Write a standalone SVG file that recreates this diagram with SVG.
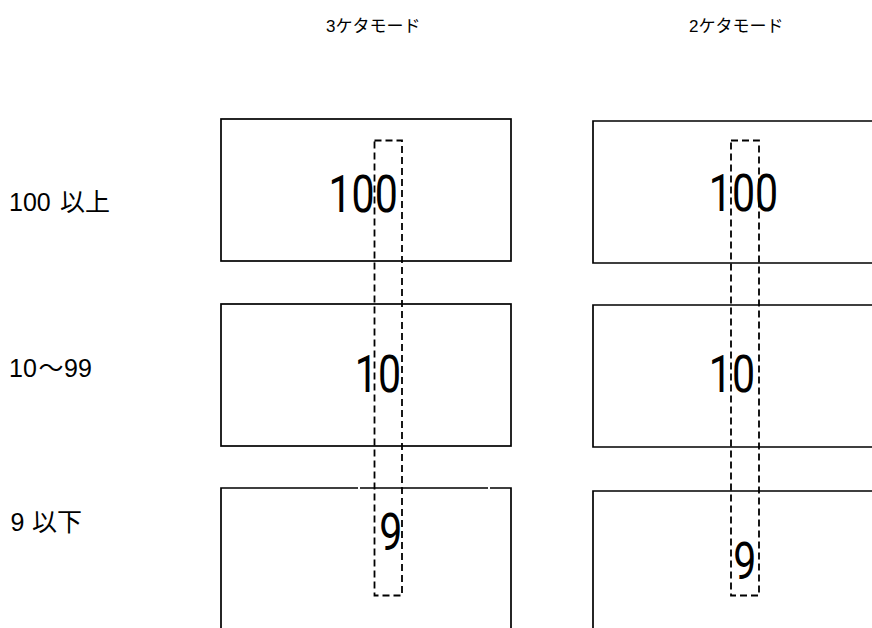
<svg xmlns="http://www.w3.org/2000/svg" width="872" height="628" viewBox="0 0 872 628">
<style>
.box{fill:none;stroke:#000;stroke-width:1.7}
.dash{fill:none;stroke:#000;stroke-width:1.8;stroke-dasharray:7 4}
.t{font-family:"Liberation Sans","Noto Sans CJK JP",sans-serif;fill:#000}
.big{font-family:Roboto,"Liberation Sans",sans-serif;font-weight:400;font-size:52px}
.lab{font-size:25px}
.cjk{font-family:"Noto Sans CJK JP",sans-serif;font-size:25px}
.title{font-size:17px}
</style>
<rect width="872" height="628" fill="#fff"/>
<g id="titles">
<text class="t title" x="326" y="32">3<tspan font-family="Noto Sans CJK JP, sans-serif">ケタモード</tspan></text>
<text class="t title" x="689" y="32">2<tspan font-family="Noto Sans CJK JP, sans-serif">ケタモード</tspan></text>
</g>
<g id="row-labels">
<text class="t lab" x="9" y="211">100<tspan class="cjk" x="60">以上</tspan></text>
<text class="t lab" x="9" y="377">10<tspan class="cjk" font-size="24" x="38.5">〜</tspan><tspan x="64">99</tspan></text>
<text class="t lab" x="10.5" y="531">9<tspan class="cjk" x="32">以下</tspan></text>
</g>
<g id="box-3-100">
<rect class="box" x="221" y="119" width="290" height="142"/>
<text class="big" transform="translate(328.5,211.5) scale(0.79,1)">100</text>
</g>
<g id="box-3-10">
<rect class="box" x="221" y="304" width="290" height="142"/>
<text class="big" transform="translate(354.8,391.5) scale(0.79,1)">10</text>
</g>
<g id="box-3-9">
<path class="box" d="M221 640 V488 H358 M360 488 H488 M490 488 H511 V640"/>
<text class="big" transform="translate(379.3,549.5) scale(0.79,1)">9</text>
</g>
<g id="box-2-100">
<path class="box" d="M880 121 H593 V263 H880"/>
<text class="big" transform="translate(708.8,211) scale(0.79,1)">100</text>
</g>
<g id="box-2-10">
<path class="box" d="M880 305 H593 V447 H880"/>
<text class="big" transform="translate(708.8,391.5) scale(0.79,1)">10</text>
</g>
<g id="box-2-9">
<path class="box" d="M880 491 H593 V640"/>
<text class="big" transform="translate(733.3,578.5) scale(0.79,1)">9</text>
</g>
<g id="connectors">
<rect class="dash" x="374.5" y="140.5" width="27.5" height="455"/>
<rect class="dash" x="731" y="140.5" width="28" height="455"/>
</g>
</svg>
